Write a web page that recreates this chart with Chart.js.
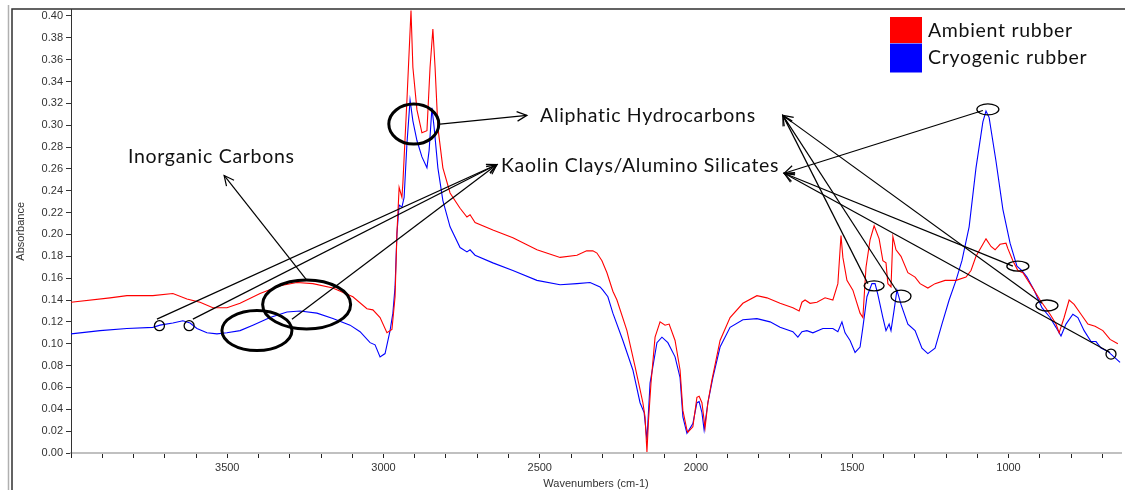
<!DOCTYPE html>
<html><head><meta charset="utf-8">
<script src="https://cdn.jsdelivr.net/npm/chart.js@4/dist/chart.umd.min.js"></script>
<style>html,body{margin:0;padding:0;background:#fff;}#wrap{width:1125px;height:490px;}</style>
</head><body><div id="wrap"><canvas id="c" width="1125" height="490"></canvas></div>
<script>
// ---- data ----
const seriesNames = ['Ambient rubber', 'Cryogenic rubber'];
const ambientWavenumbers = [4000,3875,3821,3738,3674,3629,3587,3546,3501,3459,3395,3331,3277,3226,3162,3098,3053,3034,3011,2989,2973,2963,2957,2950,2941,2938,2925,2912,2906,2893,2877,2861,2851,2842,2835,2826,2810,2787,2755,2733,2723,2707,2650,2586,2509,2435,2381,2350,2330,2317,2301,2285,2266,2253,2221,2195,2179,2170,2163,2157,2152,2144,2131,2115,2099,2086,2067,2051,2042,2029,2026,2010,1997,1990,1981,1971,1962,1949,1923,1891,1850,1805,1773,1731,1690,1670,1661,1651,1635,1613,1587,1562,1546,1536,1530,1517,1498,1475,1466,1456,1443,1430,1414,1402,1392,1386,1376,1370,1360,1344,1322,1299,1283,1258,1235,1203,1168,1136,1120,1104,1072,1056,1043,1027,1008,1002,986,970,954,925,899,867,848,838,822,806,790,768,746,723,698,675,650];
const ambientAbsorbance = [0.138,0.142,0.144,0.144,0.146,0.141,0.138,0.133,0.133,0.137,0.146,0.153,0.156,0.155,0.151,0.143,0.132,0.131,0.124,0.110,0.113,0.143,0.201,0.243,0.234,0.247,0.323,0.405,0.353,0.314,0.293,0.295,0.353,0.388,0.353,0.298,0.261,0.238,0.224,0.216,0.218,0.211,0.204,0.197,0.186,0.179,0.181,0.185,0.185,0.183,0.176,0.165,0.148,0.140,0.112,0.079,0.058,0.046,0.033,0.001,0.030,0.064,0.106,0.120,0.117,0.118,0.103,0.076,0.039,0.021,0.019,0.024,0.051,0.052,0.046,0.023,0.046,0.067,0.103,0.124,0.137,0.144,0.142,0.137,0.133,0.130,0.138,0.140,0.137,0.138,0.142,0.140,0.155,0.199,0.179,0.158,0.149,0.128,0.124,0.170,0.195,0.208,0.196,0.176,0.174,0.155,0.152,0.198,0.186,0.180,0.165,0.161,0.155,0.151,0.155,0.158,0.158,0.161,0.167,0.180,0.196,0.189,0.186,0.191,0.192,0.187,0.176,0.167,0.165,0.152,0.140,0.127,0.118,0.110,0.124,0.140,0.136,0.127,0.118,0.116,0.112,0.104,0.100];
const cryogenicWavenumbers = [4000,3907,3821,3738,3715,3674,3642,3619,3597,3565,3533,3501,3459,3418,3363,3309,3267,3213,3162,3107,3075,3043,3027,3011,2995,2979,2970,2963,2957,2950,2941,2934,2925,2915,2906,2893,2877,2861,2854,2845,2838,2826,2810,2787,2755,2733,2723,2707,2650,2586,2509,2435,2381,2339,2307,2298,2282,2266,2234,2202,2179,2166,2157,2147,2125,2109,2090,2067,2051,2042,2029,2010,1997,1990,1981,1974,1962,1946,1923,1891,1850,1805,1763,1731,1690,1674,1661,1645,1626,1594,1562,1546,1533,1523,1507,1491,1475,1466,1453,1437,1427,1418,1402,1392,1382,1376,1366,1357,1344,1322,1299,1277,1258,1235,1213,1190,1168,1149,1126,1104,1082,1072,1062,1040,1018,995,973,957,941,918,893,867,848,832,816,794,778,758,736,720,704,682,659,643];
const cryogenicAbsorbance = [0.109,0.112,0.114,0.115,0.117,0.119,0.121,0.119,0.114,0.110,0.109,0.110,0.112,0.117,0.124,0.129,0.130,0.128,0.123,0.117,0.111,0.101,0.099,0.088,0.091,0.112,0.128,0.152,0.201,0.227,0.225,0.234,0.283,0.323,0.304,0.286,0.271,0.261,0.277,0.316,0.298,0.261,0.231,0.207,0.188,0.184,0.186,0.181,0.174,0.167,0.158,0.154,0.155,0.156,0.152,0.149,0.143,0.128,0.103,0.076,0.046,0.037,0.012,0.064,0.101,0.106,0.101,0.088,0.069,0.033,0.018,0.027,0.046,0.047,0.037,0.021,0.046,0.069,0.097,0.115,0.122,0.123,0.120,0.115,0.111,0.106,0.111,0.112,0.110,0.114,0.114,0.111,0.120,0.110,0.103,0.092,0.097,0.115,0.143,0.155,0.155,0.145,0.124,0.112,0.118,0.112,0.131,0.149,0.136,0.118,0.112,0.096,0.091,0.096,0.118,0.140,0.158,0.176,0.207,0.261,0.303,0.313,0.307,0.267,0.223,0.192,0.171,0.167,0.161,0.149,0.133,0.124,0.115,0.107,0.118,0.127,0.124,0.112,0.102,0.102,0.096,0.093,0.087,0.083];
const xTickValues = [4000,3900,3800,3700,3600,3500,3400,3300,3200,3100,3000,2900,2800,2700,2600,2500,2400,2300,2200,2100,2000,1900,1800,1700,1600,1500,1400,1300,1200,1100,1000,900,800,700];
const xTickLabels = [3500,3000,2500,2000,1500,1000];
const yTickValues = [0,0.02,0.04,0.06,0.08,0.10,0.12,0.14,0.16,0.18,0.20,0.22,0.24,0.26,0.28,0.30,0.32,0.34,0.36,0.38,0.40];

// ---- annotations (in data coordinates) ----
const ellipseMarks = [
  {wn:3717, a:0.1165, rx:5, ry:5, w:1.3},
  {wn:3622, a:0.1165, rx:5, ry:5, w:1.3},
  {wn:3405, a:0.112, rx:35, ry:20, w:3},
  {wn:3246, a:0.136, rx:44, ry:24.5, w:3},
  {wn:2903, a:0.301, rx:25, ry:20, w:3},
  {wn:1430, a:0.153, rx:10, ry:5, w:1.3},
  {wn:1344, a:0.1435, rx:10, ry:6, w:1.3},
  {wn:1066, a:0.3145, rx:11, ry:5.5, w:1.3},
  {wn:970, a:0.171, rx:11, ry:5, w:1.3},
  {wn:877, a:0.135, rx:11, ry:5.5, w:1.3},
  {wn:672, a:0.0905, rx:5, ry:5, w:1.3}
];
const arrowMarks = [
  {from:[3245,0.158], to:[3510,0.254]},
  {from:[2819,0.301], to:[2541,0.309]},
  {from:[3725,0.1225], to:[2637,0.264]},
  {from:[3610,0.1225], to:[2637,0.264]},
  {from:[3293,0.1225], to:[2637,0.264]},
  {from:[1450,0.155], to:[1722,0.309]},
  {from:[1357,0.148], to:[1722,0.309]},
  {from:[893,0.137], to:[1722,0.309]},
  {from:[1082,0.3135], to:[1718,0.256]},
  {from:[986,0.171], to:[1718,0.256]},
  {from:[675,0.092], to:[1718,0.256]}
];
const textMarks = [
  {text:'Inorganic Carbons', wn:3818, a:0.271},
  {text:'Aliphatic Hydrocarbons', wn:2499, a:0.309},
  {text:'Kaolin Clays/Alumino Silicates', wn:2624, a:0.263}
];

const toXY = (xs, ys) => xs.map((v, i) => ({x: v, y: ys[i]}));
const TEXT_FONT = '19.5px Lato';
const SMALL_FONT = '11px "Liberation Sans"';

const overlay = {
  id: 'overlay',
  afterDraw(chart) {
    const {ctx, scales: {x, y}, chartArea: ca} = chart;
    const X = v => x.getPixelForValue(v), Y = v => y.getPixelForValue(v);
    ctx.save();
    // frame
    ctx.strokeStyle = '#b0b0b0'; ctx.lineWidth = 1.5;
    ctx.beginPath(); ctx.moveTo(8.5, 5); ctx.lineTo(8.5, 490); ctx.stroke();
    ctx.strokeStyle = '#303030'; ctx.lineWidth = 1.5;
    ctx.beginPath(); ctx.moveTo(12, 490); ctx.lineTo(12, 9); ctx.lineTo(1125, 9); ctx.stroke();
    // axis titles
    ctx.fillStyle = '#333'; ctx.font = SMALL_FONT; ctx.textAlign = 'center'; ctx.textBaseline = 'middle';
    ctx.fillText('Wavenumbers (cm-1)', (ca.left + ca.right) / 2, 484);
    ctx.save(); ctx.translate(21, (ca.top + ca.bottom) / 2); ctx.rotate(-Math.PI / 2);
    ctx.fillText('Absorbance', 0, 0); ctx.restore();
    // ellipses
    ctx.strokeStyle = '#000';
    ellipseMarks.forEach(e => {
      ctx.lineWidth = e.w;
      ctx.beginPath(); ctx.ellipse(X(e.wn), Y(e.a), e.rx, e.ry, 0, 0, Math.PI * 2); ctx.stroke();
    });
    // arrows
    ctx.lineWidth = 1.2;
    arrowMarks.forEach(m => {
      const x1 = X(m.from[0]), y1 = Y(m.from[1]), x2 = X(m.to[0]), y2 = Y(m.to[1]);
      ctx.beginPath(); ctx.moveTo(x1, y1); ctx.lineTo(x2, y2); ctx.stroke();
      const ang = Math.atan2(y2 - y1, x2 - x1), L = 11, h = 0.45;
      ctx.beginPath();
      ctx.moveTo(x2 - L * Math.cos(ang - h), y2 - L * Math.sin(ang - h));
      ctx.lineTo(x2, y2);
      ctx.lineTo(x2 - L * Math.cos(ang + h), y2 - L * Math.sin(ang + h));
      ctx.stroke();
    });
    // texts
    ctx.fillStyle = '#111'; ctx.font = TEXT_FONT; ctx.textAlign = 'left'; ctx.textBaseline = 'middle';
    if ('letterSpacing' in ctx) ctx.letterSpacing = '0.7px';
    textMarks.forEach(t => ctx.fillText(t.text, X(t.wn), Y(t.a)));
    // legend
    chart.data.datasets.forEach((ds, i) => {
      const top = 17 + i * 26.5;
      ctx.fillStyle = ds.borderColor;
      ctx.fillRect(890, top, 32, i === 0 ? 26 : 29);
      ctx.fillStyle = '#111';
      ctx.fillText(ds.label, 928, top + 14);
    });
    ctx.restore();
  }
};

new Chart(document.getElementById('c'), {
  type: 'line',
  data: {
    datasets: [
      {label: seriesNames[0], data: toXY(ambientWavenumbers, ambientAbsorbance), borderColor: '#ff0000', borderWidth: 1.1, pointRadius: 0, tension: 0},
      {label: seriesNames[1], data: toXY(cryogenicWavenumbers, cryogenicAbsorbance), borderColor: '#0000ff', borderWidth: 1.1, pointRadius: 0, tension: 0}
    ]
  },
  options: {
    responsive: false, animation: false, devicePixelRatio: 1,
    parsing: false,
    layout: {padding: {left: 0, right: 4, top: 9, bottom: 0}},
    plugins: {legend: {display: false}, tooltip: {enabled: false}},
    scales: {
      x: {
        type: 'linear', reverse: true, min: 640, max: 4000,
        afterBuildTicks(s) { s.ticks = xTickValues.map(v => ({value: v})); },
        afterFit(s) { s.height = 37; },
        ticks: {autoSkip: false, maxRotation: 0, padding: 3, color: '#333', font: {family: 'Liberation Sans', size: 11},
          callback: v => xTickLabels.includes(v) ? String(v) : ''},
        grid: {drawOnChartArea: false, drawTicks: true, tickLength: 5, tickColor: '#222', tickWidth: 1},
        border: {color: '#c0c0c0', width: 2}
      },
      y: {
        type: 'linear', min: 0, max: 0.4058,
        afterBuildTicks(s) { s.ticks = yTickValues.map(v => ({value: v})); },
        afterFit(s) { s.width = 71; },
        ticks: {padding: 3, color: '#333', font: {family: 'Liberation Sans', size: 11}, callback: v => Number(v).toFixed(2)},
        grid: {drawOnChartArea: false, drawTicks: true, tickLength: 5, tickColor: '#333'},
        border: {color: '#333', width: 1, dash: [1, 1]}
      }
    }
  },
  plugins: [overlay]
});
</script></body></html>
